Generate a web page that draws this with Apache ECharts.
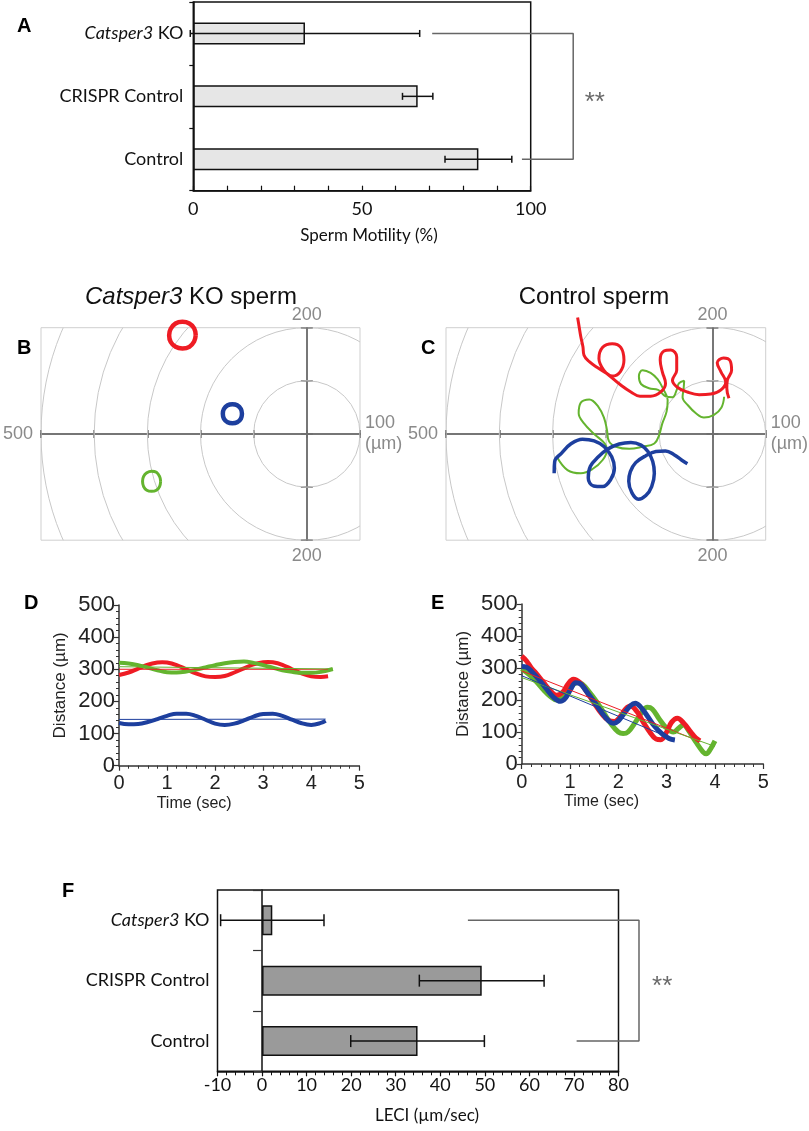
<!DOCTYPE html>
<html><head><meta charset="utf-8">
<script src="https://cdn.jsdelivr.net/npm/echarts@6/dist/echarts.min.js"></script>
<style>html,body{margin:0;padding:0;background:#fff}#c{width:809px;height:1131px}</style>
</head><body><div id="c"></div>
<script>
// ---------- data ----------
const groups = ['Control', 'CRISPR Control', 'Catsper3 KO'];
const motilityMean = [84.5, 66.5, 33.1];
const motilitySD = [9.9, 4.5, 34.0];
const leciMean = [34.9, 49.3, 2.3];
const leciSD = [15.0, 14.0, 11.6];
const motilityTicks = [0, 50, 100];
const ringRadii = [100, 200, 300, 400, 500];

// B: Catsper3 KO tracks (µm)
const koRedTrack = [[-209,186],[-212,199],[-221,208],[-234,211],[-247,208],[-256,198],[-259,186],[-256,173],[-247,164],[-234,161],[-221,164],[-212,174],[-209,186]];
const koBlueTrack = [[-122,38],[-124,47],[-131,54],[-140,56],[-149,54],[-156,47],[-158,38],[-156,29],[-149,22],[-140,20],[-131,22],[-124,29],[-122,38]];
const koGreenTrack = [[-275,-89],[-277,-80],[-283,-72],[-292,-70],[-301,-73],[-307,-80],[-309,-89],[-307,-99],[-301,-106],[-292,-108],[-283,-106],[-277,-99],[-275,-89]];

// C: control tracks (µm)
const ctrlRedTrack = [[-253,219],[-250,201],[-247,183],[-243,164],[-241,148],[-231,136],[-216,125],[-200,115],[-188,109],[-173,117],[-166,139],[-172,163],[-188,170],[-206,163],[-213,142],[-204,120],[-189,106],[-172,92],[-153,79],[-136,71],[-116,71],[-97,79],[-88,95],[-94,117],[-98,139],[-91,156],[-78,158],[-67,145],[-67,120],[-75,101],[-66,88],[-47,79],[-25,74],[-3,75],[16,83],[25,98],[16,117],[9,134],[21,143],[33,138],[36,120],[28,101],[27,86],[31,67]];
const ctrlGreenTrack = [[22,70],[17,50],[3,36],[-16,31],[-31,39],[-46,54],[-56,69],[-54,86],[-53,100],[-63,95],[-67,83],[-75,69],[-88,71],[-102,83],[-119,86],[-134,94],[-138,109],[-131,120],[-116,115],[-103,103],[-92,84],[-84,64],[-86,42],[-94,20],[-100,-2],[-109,-18],[-131,-24],[-156,-28],[-181,-24],[-194,-14],[-198,8],[-203,29],[-214,51],[-231,65],[-247,59],[-251,39],[-241,20],[-222,0],[-202,-18],[-198,-30],[-206,-49],[-225,-66],[-247,-74],[-272,-68],[-292,-43]];
const ctrlBlueTrack = [[-297,-74],[-296,-52],[-283,-36],[-266,-19],[-244,-10],[-222,-13],[-203,-24],[-189,-43],[-184,-64],[-191,-86],[-206,-99],[-223,-98],[-233,-83],[-229,-61],[-214,-43],[-197,-29],[-175,-19],[-153,-16],[-134,-21],[-121,-33],[-112,-52],[-109,-74],[-114,-99],[-125,-116],[-139,-123],[-151,-111],[-157,-89],[-154,-71],[-144,-54],[-125,-41],[-106,-33],[-88,-32],[-72,-39],[-58,-49],[-47,-56]];

// D: KO distance vs time
const dRed = [[0,282],[0.2,290],[0.4,302],[0.6,314],[0.8,321],[0.9,322],[1.0,321],[1.2,313],[1.4,300],[1.6,287],[1.8,278],[2.0,276],[2.2,279],[2.4,290],[2.6,303],[2.8,315],[3.0,322],[3.1,323],[3.2,322],[3.4,314],[3.6,300],[3.8,287],[4.0,278],[4.2,276],[4.35,278]];
const dGreen = [[0,320],[0.2,318],[0.4,313],[0.6,305],[0.8,297],[1.0,291],[1.2,290],[1.4,293],[1.6,299],[1.8,306],[2.0,313],[2.2,319],[2.4,323],[2.6,324],[2.8,320],[3.0,313],[3.2,305],[3.4,297],[3.6,292],[3.8,289],[4.0,289],[4.2,292],[4.45,301]];
const dBlue = [[0,133],[0.2,129],[0.4,130],[0.6,136],[0.8,145],[1.0,155],[1.2,162],[1.4,162],[1.6,155],[1.8,143],[2.0,131],[2.2,127],[2.4,131],[2.6,141],[2.8,153],[3.0,161],[3.2,162],[3.4,155],[3.6,143],[3.8,132],[4.0,127],[4.2,133],[4.3,140]];
const dRedFit = [[0,300],[4.35,300]];
const dGreenFit = [[0,308],[4.45,301]];
const dBlueFit = [[0,144],[4.3,145]];

// E: control distance vs time
const eRed = [[0,337],[0.1,322],[0.2,300],[0.3,283],[0.45,255],[0.6,228],[0.72,215],[0.85,225],[0.95,248],[1.07,265],[1.2,255],[1.35,225],[1.5,190],[1.65,158],[1.8,136],[1.92,133],[2.05,150],[2.15,172],[2.25,181],[2.38,165],[2.5,135],[2.65,100],[2.78,78],[2.88,76],[3.0,100],[3.1,130],[3.22,143],[3.35,128],[3.5,100],[3.6,82],[3.69,72]];
const eBlue = [[0,305],[0.1,302],[0.2,290],[0.35,265],[0.5,237],[0.65,210],[0.8,196],[0.9,205],[1.0,230],[1.12,254],[1.22,250],[1.35,225],[1.5,195],[1.65,162],[1.8,135],[1.9,127],[2.0,135],[2.12,158],[2.25,182],[2.35,190],[2.45,180],[2.6,150],[2.75,118],[2.9,95],[3.05,80],[3.17,75]];
const eGreen = [[0,298],[0.15,280],[0.3,258],[0.45,232],[0.6,210],[0.72,200],[0.85,210],[1.0,238],[1.15,255],[1.25,250],[1.4,225],[1.55,195],[1.7,160],[1.85,125],[2.0,100],[2.1,95],[2.2,100],[2.35,130],[2.5,165],[2.6,177],[2.7,172],[2.85,140],[3.0,112],[3.14,100],[3.25,112],[3.35,122],[3.45,105],[3.6,70],[3.75,38],[3.82,32],[3.9,45],[4.0,72]];
const eRedFit = [[0,291],[3.7,70]];
const eBlueFit = [[0,276],[3.17,75]];
const eGreenFit = [[0,270],[4.0,55]];

// significance brackets (value, category)
const bracketA = [[70.8,'Catsper3 KO'],[112.6,'Catsper3 KO'],[112.6,'Control'],[97.4,'Control']];
const starA = [[119,'CRISPR Control']];
const bracketF = [[46.2,'Catsper3 KO'],[84.6,'Catsper3 KO'],[84.6,'Control'],[70.6,'Control']];
const starF = [[89.8,'CRISPR Control']];

// ---------- styles ----------
const RED = '#ee1c24', BLUE = '#1d3f9e', GREEN = '#64b42f';
const HUM = 'Lato, "Open Sans", sans-serif';
const ARI = '"Liberation Sans", Arial, sans-serif';
const italicRich = { i: { fontStyle: 'italic', fontSize: 18, fontFamily: HUM, color: '#111' } };
const catFmt = v => v === 'Catsper3 KO' ? '{i|Catsper3} KO' : v;

function errRender(cap) {
  return function (params, api) {
    const cat = api.value(0), lo = api.value(1), hi = api.value(2);
    const p1 = api.coord([lo, cat]), p2 = api.coord([hi, cat]);
    const st = { stroke: '#111', lineWidth: 1.5 };
    return { type: 'group', children: [
      { type: 'line', shape: { x1: p1[0], y1: p1[1], x2: p2[0], y2: p2[1] }, style: st },
      { type: 'line', shape: { x1: p1[0], y1: p1[1] - cap, x2: p1[0], y2: p1[1] + cap }, style: st },
      { type: 'line', shape: { x1: p2[0], y1: p2[1] - cap, x2: p2[0], y2: p2[1] + cap }, style: st }
    ]};
  };
}
function ringRender(params, api) {
  const r = api.value(0);
  const c = api.coord([0, 0]);
  const s = api.size([r, r]);
  return { type: 'circle', shape: { cx: c[0], cy: c[1], r: s[0] },
    style: { fill: 'none', stroke: '#c8c8c8', lineWidth: 1 } };
}

const grayName = { color: '#8a8a8a', fontSize: 18, fontFamily: ARI };
const crossLine = { show: true, onZero: true, lineStyle: { color: '#6e6e6e', width: 1.5 } };

function polarXAxes(gi) {
  return [
    { gridIndex: gi, type: 'value', min: -500, max: 100, interval: 100, position: 'bottom',
      axisLine: crossLine, axisTick: { show: true, length: 4, lineStyle: { color: '#6e6e6e', width: 1.5 } },
      axisLabel: { show: false }, splitLine: { show: false },
      name: '500', nameLocation: 'start', nameGap: 8, nameTextStyle: grayName },
    { gridIndex: gi, type: 'value', min: -500, max: 100, interval: 100, position: 'top',
      axisLine: crossLine, axisTick: { show: true, length: 4, lineStyle: { color: '#6e6e6e', width: 1.5 } },
      axisLabel: { show: false }, splitLine: { show: false },
      name: '100\n(µm)', nameLocation: 'end', nameGap: 5,
      nameTextStyle: Object.assign({}, grayName, { lineHeight: 21, padding: [21, 0, 0, 0], align: 'left' }) }
  ];
}
function polarYAxes(gi) {
  return [
    { gridIndex: gi, type: 'value', min: -200, max: 200, interval: 100, position: 'left',
      axisLine: crossLine, axisTick: { show: true, length: 6, lineStyle: { color: '#6e6e6e', width: 1.5 } },
      axisLabel: { show: false }, splitLine: { show: false },
      name: '200', nameLocation: 'end', nameGap: 4, nameTextStyle: grayName },
    { gridIndex: gi, type: 'value', min: -200, max: 200, interval: 100, position: 'right',
      axisLine: crossLine, axisTick: { show: true, length: 6, lineStyle: { color: '#6e6e6e', width: 1.5 } },
      axisLabel: { show: false }, splitLine: { show: false },
      name: '200', nameLocation: 'start', nameGap: 7, nameTextStyle: grayName }
  ];
}
function timeX(gi, pad) {
  return { gridIndex: gi, type: 'value', min: 0, max: 5, interval: 1,
    axisLine: { show: true, onZero: false, lineStyle: { color: '#333', width: 1.5 } },
    axisTick: { show: true, length: 5, lineStyle: { color: '#333', width: 1.2 } },
    minorTick: { show: true, splitNumber: 5, length: 3, lineStyle: { color: '#333', width: 1 } },
    axisLabel: { fontSize: 20, color: '#222', fontFamily: ARI, margin: 8 },
    splitLine: { show: false }, minorSplitLine: { show: false },
    name: 'Time (sec)', nameLocation: 'middle', nameGap: 30,
    nameTextStyle: { fontSize: 16, color: '#222', fontFamily: ARI, padding: [0, pad, 0, 0] } };
}
function distY(gi) {
  return { gridIndex: gi, type: 'value', min: 0, max: 500, interval: 100,
    axisLine: { show: true, onZero: false, lineStyle: { color: '#333', width: 1.5 } },
    axisTick: { show: true, length: 5, lineStyle: { color: '#333', width: 1.2 } },
    minorTick: { show: true, splitNumber: 5, length: 3, lineStyle: { color: '#333', width: 1 } },
    axisLabel: { fontSize: 22, color: '#222', fontFamily: ARI, margin: 4 },
    splitLine: { show: false }, minorSplitLine: { show: false },
    name: 'Distance (µm)', nameLocation: 'middle', nameGap: 50,
    nameTextStyle: { fontSize: 17, color: '#222', fontFamily: ARI } };
}
function track(xi, yi, data, color, w, z) {
  return { type: 'line', xAxisIndex: xi, yAxisIndex: yi, data: data, smooth: 0.4, symbol: 'none',
    clip: false, z: z || 2, lineStyle: { color: color, width: w }, silent: true };
}
function fit(xi, yi, data, color) {
  return { type: 'line', xAxisIndex: xi, yAxisIndex: yi, data: data, symbol: 'none',
    z: 5, lineStyle: { color: color, width: 1 }, silent: true };
}
function letter(t, x, y) {
  return { text: t, left: x, top: y, textStyle: { fontSize: 20, fontWeight: 'bold', color: '#000', fontFamily: ARI } };
}
const starLabel = { show: true, position: 'inside', formatter: '**', fontSize: 26, color: '#444', fontFamily: ARI, offset: [0, 6] };

const chart = echarts.init(document.getElementById('c'), null, { renderer: 'canvas' });
const option = {
  backgroundColor: '#fff',
  animation: false,
  title: [
    letter('A', 12, 11), letter('B', 12, 333), letter('C', 416, 333),
    letter('D', 19, 588), letter('E', 426, 588), letter('F', 57, 876),
    { text: '{i|Catsper3} KO sperm', left: 186, top: 280, textAlign: 'center',
      textStyle: { fontSize: 24, fontWeight: 'normal', color: '#111', fontFamily: ARI,
        rich: { i: { fontStyle: 'italic', fontSize: 24, fontFamily: ARI, color: '#111' } } } },
    { text: 'Control sperm', left: 589, top: 280, textAlign: 'center',
      textStyle: { fontSize: 24, fontWeight: 'normal', color: '#111', fontFamily: ARI } }
  ],
  grid: [
    { left: 193.3, top: 2, width: 337.4, height: 188.7, show: true, borderColor: '#111', borderWidth: 1.5, outerBoundsMode: 'none' },
    { left: 41, top: 327.7, width: 319, height: 212.5, show: true, borderColor: '#cfcfcf', borderWidth: 1, outerBoundsMode: 'none' },
    { left: 446, top: 327.7, width: 319.7, height: 212.5, show: true, borderColor: '#cfcfcf', borderWidth: 1, outerBoundsMode: 'none' },
    { left: 119, top: 605, width: 240.3, height: 160.7, outerBoundsMode: 'none' },
    { left: 521.7, top: 604, width: 241.6, height: 160, outerBoundsMode: 'none' },
    { left: 217.5, top: 890, width: 401, height: 181.3, show: true, borderColor: '#111', borderWidth: 1.5, outerBoundsMode: 'none' }
  ],
  xAxis: [
    { gridIndex: 0, type: 'value', min: 0, max: 100, interval: 10,
      axisLine: { show: true, onZero: false, lineStyle: { color: '#111', width: 1.5 } },
      axisTick: { show: true, inside: true, length: 5, lineStyle: { color: '#111', width: 1.2 } },
      axisLabel: { fontSize: 18, color: '#111', fontFamily: HUM, margin: 9,
        formatter: v => motilityTicks.indexOf(v) >= 0 ? String(v) : '' },
      splitLine: { show: false },
      name: 'Sperm Motility (%)', nameLocation: 'middle', nameGap: 36,
      nameTextStyle: { fontSize: 17, color: '#111', fontFamily: HUM, padding: [0, 0, 0, 14] } },
    ...polarXAxes(1),
    ...polarXAxes(2),
    timeX(3, 90),
    timeX(4, 82),
    { gridIndex: 5, type: 'value', min: -10, max: 80, interval: 10,
      axisLine: { show: true, onZero: false, lineStyle: { color: '#111', width: 1.5 } },
      axisTick: { show: true, length: 5, lineStyle: { color: '#111', width: 1.2 } },
      minorTick: { show: true, splitNumber: 5, length: 4, lineStyle: { color: '#111', width: 1 } },
      axisLabel: { fontSize: 18, color: '#111', fontFamily: HUM, margin: 5 },
      splitLine: { show: false }, minorSplitLine: { show: false },
      name: 'LECI (µm/sec)', nameLocation: 'middle', nameGap: 36,
      nameTextStyle: { fontSize: 17, color: '#111', fontFamily: HUM, padding: [0, 0, 0, 18] } }
  ],
  yAxis: [
    { gridIndex: 0, type: 'category', data: groups,
      axisLine: { show: true, onZero: false, lineStyle: { color: '#111', width: 1.5 } },
      axisTick: { show: true, length: 4, lineStyle: { color: '#111', width: 1.2 } },
      axisLabel: { fontSize: 18, color: '#111', fontFamily: HUM, margin: 10, formatter: catFmt, rich: italicRich } },
    ...polarYAxes(1),
    ...polarYAxes(2),
    distY(3),
    distY(4),
    { gridIndex: 5, type: 'category', data: groups, position: 'left',
      axisLine: { show: false, onZero: false }, axisTick: { show: false },
      axisLabel: { fontSize: 18, color: '#111', fontFamily: HUM, margin: 8, formatter: catFmt, rich: italicRich } },
    { gridIndex: 5, type: 'category', data: groups, position: 'right',
      axisLine: { show: true, onZero: true, onZeroAxisIndex: 7, lineStyle: { color: '#111', width: 1.5 } },
      axisTick: { show: true, inside: true, length: 9, lineStyle: { color: '#333', width: 1.2 } },
      axisLabel: { show: false } }
  ],
  series: [
    { type: 'bar', xAxisIndex: 0, yAxisIndex: 0, data: motilityMean, barWidth: 22,
      itemStyle: { color: '#e6e6e6', borderColor: '#111', borderWidth: 1.5 }, silent: true },
    { type: 'custom', xAxisIndex: 0, yAxisIndex: 0, renderItem: errRender(3.5), clip: false,
      encode: { x: [1, 2], y: 0 },
      data: groups.map((g, i) => [i, motilityMean[i] - motilitySD[i], motilityMean[i] + motilitySD[i]]), z: 4 },
    { type: 'line', xAxisIndex: 0, yAxisIndex: 0, data: bracketA, symbol: 'none', clip: false,
      lineStyle: { color: '#666', width: 1.5 }, silent: true },
    { type: 'scatter', xAxisIndex: 0, yAxisIndex: 0, data: starA, symbolSize: 1, clip: false,
      itemStyle: { color: 'rgba(0,0,0,0)' }, label: starLabel },

    { type: 'custom', xAxisIndex: 1, yAxisIndex: 1, renderItem: ringRender, clip: true,
      data: ringRadii.map(r => [r]), encode: { x: 0 }, z: 1, silent: true },
    track(1, 1, koRedTrack, RED, 4.5),
    track(1, 1, koBlueTrack, BLUE, 4.5),
    track(1, 1, koGreenTrack, GREEN, 3),

    { type: 'custom', xAxisIndex: 3, yAxisIndex: 3, renderItem: ringRender, clip: true,
      data: ringRadii.map(r => [r]), encode: { x: 0 }, z: 1, silent: true },
    track(3, 3, ctrlGreenTrack, GREEN, 2),
    track(3, 3, ctrlRedTrack, RED, 3),
    track(3, 3, ctrlBlueTrack, BLUE, 3.5),

    track(5, 5, dRed, RED, 4),
    track(5, 5, dGreen, GREEN, 4),
    track(5, 5, dBlue, BLUE, 4),
    fit(5, 5, dRedFit, RED), fit(5, 5, dGreenFit, GREEN), fit(5, 5, dBlueFit, BLUE),

    track(6, 6, eGreen, GREEN, 5),
    track(6, 6, eRed, RED, 5),
    track(6, 6, eBlue, BLUE, 5),
    fit(6, 6, eRedFit, RED), fit(6, 6, eGreenFit, GREEN), fit(6, 6, eBlueFit, BLUE),

    { type: 'bar', xAxisIndex: 7, yAxisIndex: 7, data: leciMean, barWidth: 30,
      itemStyle: { color: '#9a9a9a', borderColor: '#111', borderWidth: 1.5 }, silent: true },
    { type: 'custom', xAxisIndex: 7, yAxisIndex: 7, renderItem: errRender(6), clip: false,
      encode: { x: [1, 2], y: 0 },
      data: groups.map((g, i) => [i, leciMean[i] - leciSD[i], leciMean[i] + leciSD[i]]), z: 4 },
    { type: 'line', xAxisIndex: 7, yAxisIndex: 7, data: bracketF, symbol: 'none', clip: false,
      lineStyle: { color: '#666', width: 1.5 }, silent: true },
    { type: 'scatter', xAxisIndex: 7, yAxisIndex: 7, data: starF, symbolSize: 1, clip: false,
      itemStyle: { color: 'rgba(0,0,0,0)' }, label: starLabel }
  ]
};
chart.setOption(option);
</script>
</body></html>
